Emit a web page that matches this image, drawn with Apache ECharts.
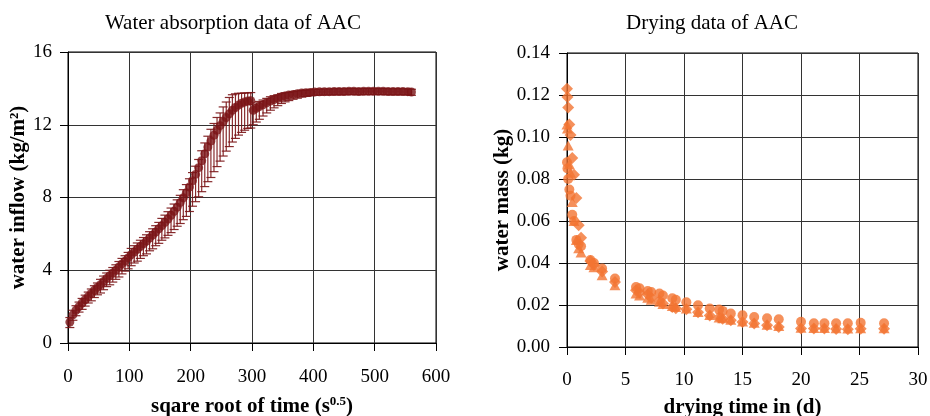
<!DOCTYPE html>
<html><head><meta charset="utf-8">
<script src="https://cdn.jsdelivr.net/npm/echarts@6/dist/echarts.min.js"></script>
<style>html,body{margin:0;padding:0;background:#fff}#c{width:930px;height:416px}</style>
</head><body><div id="c"></div>
<script>
// ---------- Left chart: water absorption ----------
const inflowX = [3,8,13,18,23,28,33,38,43,48,53,58,63,68,73,78,83,88,93,98,
  103,108,113,118,123,128,133,138,143,148,153,158,163,168,173,178,183,188,193,198,
  203,208,213,218,223,228,233,238,243,248,253,258,263,268,273,278,283,288,293,298,
  302,307,312,318,324,330,336,342,348,354,360,367,374,381,388,395,402,410,418,426,
  434,442,450,458,466,474,482,490,498,506,514,522,530,538,546,554,560];
const inflowY = [1.15,1.55,1.8,2.0,2.2,2.38,2.55,2.72,2.9,3.05,3.2,3.38,3.55,3.7,3.85,4.0,4.18,4.35,4.5,4.68,
  4.85,5.0,5.15,5.3,5.45,5.6,5.77,5.93,6.1,6.28,6.45,6.63,6.82,7.02,7.24,7.47,7.72,7.98,8.26,8.58,
  8.92,9.27,9.64,10.02,10.4,10.77,11.1,11.42,11.7,11.95,12.18,12.4,12.6,12.8,12.95,13.08,13.18,13.25,13.3,13.32,
  12.8,12.9,13.0,13.1,13.2,13.3,13.38,13.45,13.52,13.58,13.63,13.67,13.71,13.74,13.76,13.78,13.8,13.81,13.82,13.82,
  13.83,13.83,13.83,13.84,13.84,13.83,13.84,13.84,13.84,13.84,13.84,13.83,13.83,13.83,13.83,13.82,13.8];
const errUp = [0.25,0.25,0.25,0.25,0.25,0.25,0.25,0.25,0.25,0.25,0.3,0.3,0.3,0.3,0.3,0.3,0.3,0.3,0.3,0.3,
  0.35,0.35,0.35,0.35,0.35,0.35,0.35,0.35,0.35,0.35,0.4,0.4,0.4,0.4,0.4,0.4,0.4,0.45,0.45,0.45,
  0.45,0.45,0.45,0.55,0.6,0.6,0.65,0.65,0.7,0.7,0.8,0.85,0.9,0.85,0.75,0.65,0.55,0.5,0.45,0.45,
  0.3,0.3,0.28,0.26,0.25,0.24,0.22,0.2,0.2,0.18,0.15,0.15,0.15,0.15,0.15,0.15,0.15,0.15,0.15,0.15,
  0.15,0.15,0.15,0.15,0.15,0.15,0.15,0.15,0.15,0.15,0.15,0.15,0.15,0.15,0.15,0.15,0.15];
const errDown = [0.3,0.3,0.3,0.3,0.35,0.35,0.35,0.4,0.4,0.4,0.45,0.45,0.45,0.5,0.5,0.5,0.55,0.55,0.55,0.6,
  0.6,0.6,0.65,0.65,0.65,0.7,0.7,0.75,0.75,0.8,0.8,0.85,0.9,0.95,1.0,1.05,1.15,1.2,1.3,1.35,
  1.4,1.5,1.6,1.7,1.8,1.9,2.0,2.0,2.0,1.95,1.9,1.85,1.8,1.75,1.7,1.65,1.6,1.55,1.5,1.5,
  0.8,0.75,0.7,0.62,0.55,0.5,0.45,0.4,0.35,0.32,0.3,0.27,0.25,0.22,0.2,0.18,0.18,0.18,0.18,0.18,
  0.18,0.18,0.18,0.18,0.18,0.18,0.18,0.18,0.18,0.18,0.18,0.18,0.18,0.18,0.18,0.18,0.18];

// ---------- Right chart: drying ----------
const dryT = [0,0.04,0.1,0.2,0.3,0.45,0.6,0.8,1.0,1.2,2.0,2.3,3.0,4.1,5.9,6.2,6.9,7.2,7.9,8.2,9.0,9.3,
  10.2,11.2,12.2,13.0,13.3,14.0,15.0,16.0,17.1,18.1,20.0,21.1,22.0,23.0,24.0,25.1,27.1];
const massDiamond = [0.123,0.119,0.114,0.106,0.101,0.090,0.082,0.071,0.058,0.052,0.041,0.039,0.036,0.031,0.027,0.026,0.025,0.0235,0.022,0.0207,0.019,0.0185,
  0.018,0.0165,0.015,0.014,0.0135,0.0127,0.0119,0.0112,0.0103,0.0095,0.0088,0.0088,0.0088,0.0086,0.0085,0.0087,0.0087];
const massTriangle = [0.106,0.104,0.096,0.087,0.083,0.069,0.060,0.051,0.047,0.045,0.039,0.038,0.0342,0.0294,0.0255,0.0245,0.0235,0.0225,0.0215,0.0205,0.0195,0.019,
  0.0183,0.0167,0.0152,0.014,0.0137,0.013,0.0122,0.0115,0.0106,0.010,0.0092,0.009,0.009,0.0089,0.0088,0.0089,0.0089];
const massCircle = [0.088,0.085,0.080,0.075,0.072,0.063,0.060,0.051,0.049,0.048,0.0414,0.040,0.0374,0.0326,0.0286,0.028,0.0267,0.0262,0.0255,0.0245,0.0232,0.0225,
  0.0213,0.0199,0.0183,0.0178,0.0172,0.0159,0.0151,0.0143,0.0137,0.0132,0.012,0.0113,0.0113,0.0113,0.0113,0.0115,0.0113];

const FONT = 'Liberation Serif';
const RED = '#7a1416';
const ORANGE = '#f37432';
const chart = echarts.init(document.getElementById('c'));

function axisCommon(extra){
  return Object.assign({
    type:'value',
    axisLine:{show:true,lineStyle:{color:'#000',width:1}},
    axisTick:{show:true,inside:false,length:8,lineStyle:{color:'#000'}},
    axisLabel:{color:'#000',fontSize:19,fontFamily:FONT},
    splitLine:{show:true,lineStyle:{color:'#333',width:1}},
    nameTextStyle:{color:'#000',fontSize:21,fontWeight:'bold',fontFamily:FONT}
  }, extra);
}

const supRich = {
  b:{fontSize:21,fontWeight:'bold',fontFamily:FONT,color:'#000',lineHeight:24},
  sup:{fontSize:13,fontWeight:'bold',fontFamily:FONT,color:'#000',verticalAlign:'top',lineHeight:13}
};

chart.setOption({
  animation:false,
  backgroundColor:'#fff',
  title:[
    {text:'Water absorption data of AAC',left:233,top:13,padding:0,textAlign:'center',
     textStyle:{fontSize:21,fontWeight:'normal',fontFamily:FONT,color:'#000'}},
    {text:'Drying data of AAC',left:712,top:13,padding:0,textAlign:'center',
     textStyle:{fontSize:21,fontWeight:'normal',fontFamily:FONT,color:'#000'}}
  ],
  grid:[
    {left:68,top:52,width:368,height:291,show:true,borderColor:'#000',borderWidth:1,backgroundColor:'transparent',
     containLabel:false,outerBoundsMode:'none'},
    {left:567,top:53,width:351,height:294,show:true,borderColor:'#000',borderWidth:1,backgroundColor:'transparent',
     containLabel:false,outerBoundsMode:'none'}
  ],
  xAxis:[
    axisCommon({gridIndex:0,min:0,max:600,interval:100,
      axisLabel:{color:'#000',fontSize:19,fontFamily:FONT,margin:25},
      name:'{b|sqare root of time (s}{sup|0.5}{b|)}',nameLocation:'middle',nameGap:52,
      nameTextStyle:{rich:supRich}}),
    axisCommon({gridIndex:1,min:0,max:30,interval:5,
      axisLabel:{color:'#000',fontSize:19,fontFamily:FONT,margin:24},
      name:'drying time in (d)',nameLocation:'middle',nameGap:50})
  ],
  yAxis:[
    axisCommon({gridIndex:0,min:0,max:16,interval:4,
      axisLabel:{color:'#000',fontSize:19,fontFamily:FONT,margin:16},
      name:'water inflow (kg/m²)',nameLocation:'middle',nameGap:35}),
    axisCommon({gridIndex:1,min:0,max:0.14,interval:0.02,
      axisLabel:{color:'#000',fontSize:19,fontFamily:FONT,margin:17,formatter:v=>v.toFixed(2)},
      name:'water mass (kg)',nameLocation:'middle',nameGap:54})
  ],
  series:[
    {
      type:'custom',xAxisIndex:0,yAxisIndex:0,z:2,
      data:inflowX.map((x,i)=>[x,inflowY[i]-errDown[i],inflowY[i]+errUp[i]]),
      encode:{x:0,y:[1,2]},
      renderItem:function(params,api){
        const x=api.value(0);
        const pLo=api.coord([x,api.value(1)]);
        const pHi=api.coord([x,api.value(2)]);
        const hw=4.5;
        const st={stroke:RED,lineWidth:1.2,opacity:0.9};
        return {type:'group',children:[
          {type:'line',shape:{x1:pHi[0],y1:pHi[1],x2:pLo[0],y2:pLo[1]},style:st},
          {type:'line',shape:{x1:pHi[0]-hw,y1:pHi[1],x2:pHi[0]+hw,y2:pHi[1]},style:st},
          {type:'line',shape:{x1:pLo[0]-hw,y1:pLo[1],x2:pLo[0]+hw,y2:pLo[1]},style:st}
        ]};
      }
    },
    {
      type:'scatter',xAxisIndex:0,yAxisIndex:0,z:3,symbol:'circle',symbolSize:9,
      itemStyle:{color:RED},
      data:inflowX.map((x,i)=>[x,inflowY[i]])
    },
    {
      type:'scatter',xAxisIndex:1,yAxisIndex:1,symbol:'diamond',symbolSize:[12,12],
      itemStyle:{color:ORANGE},
      data:dryT.map((t,i)=>[t,massDiamond[i]])
    },
    {
      type:'scatter',xAxisIndex:1,yAxisIndex:1,symbol:'triangle',symbolSize:[11,10],
      itemStyle:{color:ORANGE},
      data:dryT.map((t,i)=>[t,massTriangle[i]])
    },
    {
      type:'scatter',xAxisIndex:1,yAxisIndex:1,symbol:'circle',symbolSize:10,
      itemStyle:{color:ORANGE},
      data:dryT.map((t,i)=>[t,massCircle[i]])
    }
  ]
});
</script>
</body></html>
